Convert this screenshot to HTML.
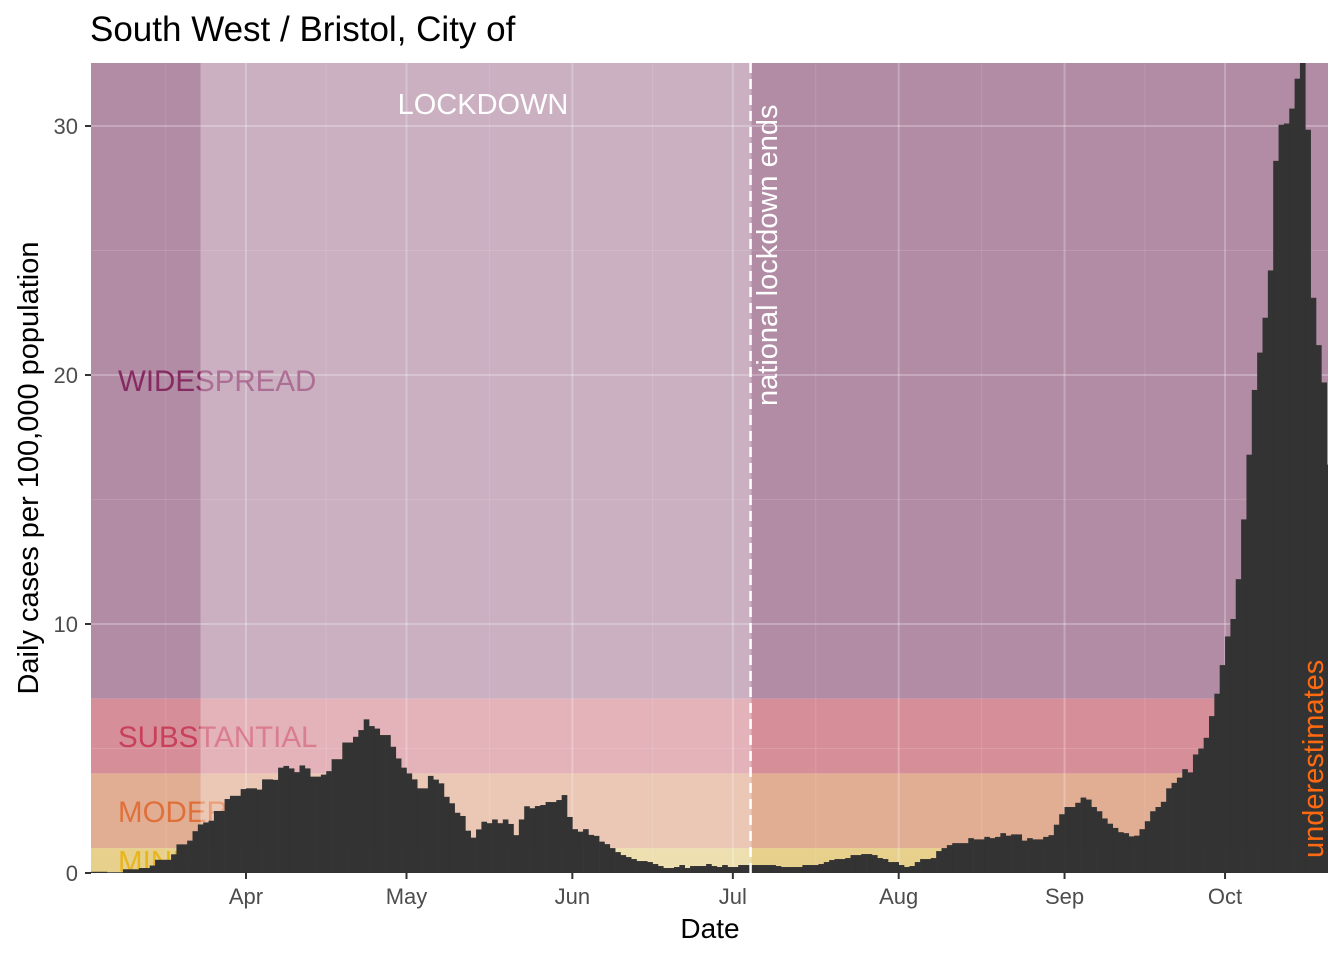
<!DOCTYPE html>
<html><head><meta charset="utf-8"><style>
body{margin:0;background:#fff;font-family:"Liberation Sans",sans-serif;}
svg text{font-family:"Liberation Sans",sans-serif;}
</style></head><body>
<svg id="chart" width="1344" height="960" viewBox="0 0 1344 960" xmlns="http://www.w3.org/2000/svg">
<defs><clipPath id="panel"><rect x="91" y="63" width="1237" height="810"/></clipPath></defs>
<g id="bands" clip-path="url(#panel)"></g>
<g id="bars" clip-path="url(#panel)"></g>
<g id="overlays" clip-path="url(#panel)"></g>
<g id="axes"></g>
<text x="90" y="41" font-size="35" fill="#000">South West / Bristol, City of</text>
<text x="710" y="938" font-size="28" text-anchor="middle" fill="#000">Date</text>
<text transform="translate(38,468) rotate(-90)" font-size="29" text-anchor="middle" fill="#000">Daily cases per 100,000 population</text>
</svg>
<script>
const startDay = 2.5; // days since 1 Mar 2020 of first bar centre
const cases = [
0.05,0.05,0.05,0.03,0.03,0.03,0.15,0.15,0.15,0.2,0.2,0.3,0.53,0.53,0.53,0.75,1.15,1.15,1.3,1.68,
1.95,2.03,2.1,2.49,2.49,2.97,3.1,3.1,3.37,3.4,3.4,3.35,3.76,3.76,3.74,4.23,4.3,4.2,4.05,4.32,
4.2,3.87,3.87,3.95,4.09,4.57,4.57,5.24,5.24,5.47,5.74,6.17,5.9,5.8,5.54,5.54,5.07,4.6,4.23,4.0,
3.76,3.4,3.4,3.9,3.75,3.6,3.06,2.8,2.42,2.29,1.7,1.42,1.75,2.06,2.0,2.15,2.0,2.15,1.97,1.52,
2.15,2.68,
2.6,2.69,2.73,2.85,2.85,2.93,3.13,2.25,1.76,1.66,
1.76,1.53,1.49,1.26,1.16,1.0,0.84,0.72,0.64,0.56,
0.48,0.48,0.44,0.36,0.28,0.2,0.2,0.24,0.32,0.2,
0.28,0.28,0.28,0.36,0.28,0.24,0.32,0.24,0.24,0.32,
0.32,0.32,0.32,0.32,0.32,0.32,0.28,0.24,0.24,0.24,
0.24,0.32,0.32,0.32,0.36,0.44,0.52,0.56,0.56,0.6,
0.72,0.72,0.76,0.76,0.72,0.6,0.56,0.44,0.44,0.32,
0.24,0.28,0.44,0.56,0.56,0.6,0.88,1.0,1.12,1.2,
1.2,1.2,1.4,
1.35,1.35,1.45,1.4,1.45,1.6,1.5,1.55,1.55,1.3,1.4,1.35,1.35,1.45,1.52,1.94,2.36,2.65,2.65,2.82,
3.03,2.95,2.65,2.48,2.19,1.98,1.81,1.64,1.6,1.47,1.5,1.76,2.08,2.48,2.65,2.86,3.4,3.62,3.83,4.17,
4.04,4.76,5.0,5.43,6.3,7.2,8.35,9.5,10.2,11.8,14.2,16.8,19.4,20.9,22.3,24.2,28.6,30.05,30.1,30.7,
31.9,33.5,29.85,23.1,21.2,19.7,16.4];
const tickDays = [31,61,92,122,153,184,214];
const tickLabels = ["Apr","May","Jun","Jul","Aug","Sep","Oct"];
const yTicks = [0,10,20,30];
const bandLimits = [0,1,4,7,40];
const bandNames = ["MINIMAL","MODERATE","SUBSTANTIAL","WIDESPREAD"];
const lockdownStart = 22.5, lockdownEnd = 125.5;

const NS="http://www.w3.org/2000/svg";
const X0=91,X1=1328,Y0=873,Y1=63;
const x = d => 246 + 5.35*(d-31);
const y = v => 873 - 24.9*v;
function mk(tag,attrs,parent,text){const e=document.createElementNS(NS,tag);for(const k in attrs)e.setAttribute(k,attrs[k]);if(text!==undefined)e.textContent=text;parent.appendChild(e);return e;}
const gB=document.getElementById('bands'),gBar=document.getElementById('bars'),gO=document.getElementById('overlays'),gA=document.getElementById('axes');
const bandCols=["#e6d08c","#e1ae93","#d68f99","#b28ba4"];
const textCols=["#e8b51c","#e0703a","#c8405a","#862a62"];
for(let i=0;i<4;i++){
  const r=mk('rect',{x:X0,y:y(bandLimits[i+1]),width:X1-X0,height:y(bandLimits[i])-y(bandLimits[i+1]),fill:bandCols[i]},gB);
  
  
}
for(let v=0;v<=32;v+=5){const l=mk('line',{x1:X0,x2:X1,y1:y(v),y2:y(v),stroke:'#fff','stroke-opacity':v%10==0?0.25:0.12,'stroke-width':v%10==0?2:1},gB);
  
  }
tickDays.forEach((d,i)=>{const l=mk('line',{x1:x(d),x2:x(d),y1:Y1,y2:Y0,stroke:'#fff','stroke-opacity':0.25,'stroke-width':2},gB);
  
  
  const m=i>0?(d+tickDays[i-1])/2:d-15;const l2=mk('line',{x1:x(m),x2:x(m),y1:Y1,y2:Y0,stroke:'#fff','stroke-opacity':0.12,'stroke-width':1},gB);
  
  });
const labelY=[y(0.5)+11,y(2.5)+11,y(5.5)+11,y(19.8)+11];
for(let i=0;i<4;i++){const t=mk('text',{x:118,y:labelY[i],'font-size':29.5,fill:textCols[i]},gB,bandNames[i]);
  
  }
const lo=mk('rect',{x:x(lockdownStart),y:Y1,width:x(lockdownEnd)-x(lockdownStart),height:Y0-Y1,fill:'#fff','fill-opacity':0.32},gB);


const w=5.35;
cases.forEach((v,i)=>{const d=startDay+i;const b=mk('rect',{x:x(d)-w/2,y:y(v),width:w+0.3,height:Y0-y(v),fill:'#333333'},gBar);
  
  });
const dl=mk('line',{x1:x(lockdownEnd)-1,x2:x(lockdownEnd)-1,y1:Y1,y2:Y0,stroke:'#fff','stroke-width':2.5,'stroke-dasharray':'10,6'},gO);


const lt=mk('text',{x:483,y:114,'font-size':29,fill:'#fff','text-anchor':'middle'},gO,'LOCKDOWN');


const nl=mk('text',{transform:'translate(777,406) rotate(-90)','font-size':29,fill:'#fff'},gO,'national lockdown ends');


const ue=mk('text',{transform:'translate(1323,858) rotate(-90)','font-size':29,fill:'#ff6a10'},gO,'underestimates');


yTicks.forEach(v=>{const t=mk('line',{x1:85,x2:91,y1:y(v),y2:y(v),stroke:'#333','stroke-width':2},gA);
  
  
  const l=mk('text',{x:78,y:y(v)+8,'font-size':22,fill:'#4d4d4d','text-anchor':'end'},gA,String(v));
  
  });
tickDays.forEach((d,i)=>{const t=mk('line',{x1:x(d),x2:x(d),y1:873,y2:879,stroke:'#333','stroke-width':2},gA);
  
  
  const l=mk('text',{x:x(d),y:904,'font-size':22,fill:'#4d4d4d','text-anchor':'middle'},gA,tickLabels[i]);
  
  });
</script>
</body></html>
